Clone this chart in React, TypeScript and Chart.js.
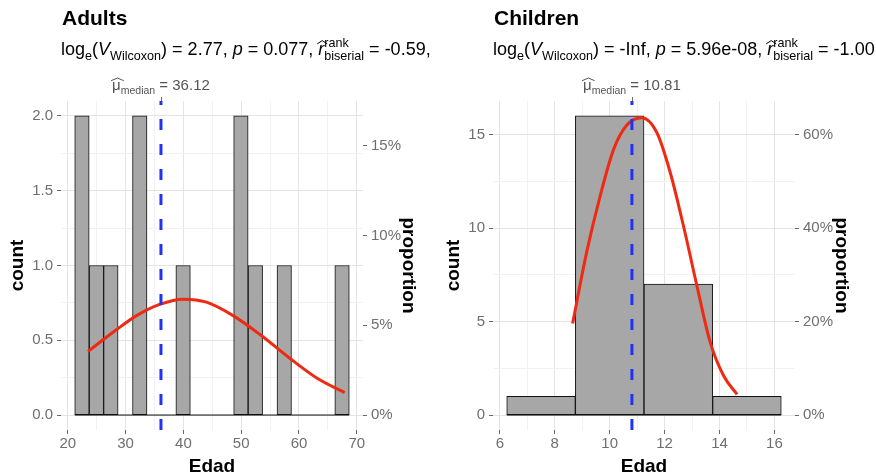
import React, { useEffect, useRef } from 'react';
import { Chart, registerables } from 'chart.js';

Chart.register(...registerables);

const FONT = '"Liberation Sans", Arial, Helvetica, sans-serif';

// ---------- Adults data ----------
const adultsTitle = 'Adults';
const adultsBinWidth = 2.5;
const adultsBinCenters = [22.45, 24.95, 27.45, 29.95, 32.45, 34.95, 37.45, 39.95, 42.45, 44.95, 47.45, 49.95, 52.45, 54.95, 57.45, 59.95, 62.45, 64.95, 67.45];
const adultsCounts = [2, 1, 1, 0, 2, 0, 0, 1, 0, 0, 0, 2, 1, 0, 1, 0, 0, 0, 1];
const adultsMedian = 36.12;
const adultsCurveX = [23.5, 26.0, 28.4, 31.9, 35.9, 40.0, 44.0, 48.6, 53.2, 58.4, 63.0, 67.9];
const adultsCurveY = [0.425, 0.5, 0.57, 0.665, 0.74, 0.775, 0.755, 0.665, 0.54, 0.38, 0.25, 0.15];
const adultsXMajor = [20, 30, 40, 50, 60, 70];
const adultsXMinor = [25, 35, 45, 55, 65];
const adultsYMajor = [0, 0.5, 1, 1.5, 2];
const adultsYMajorLabels = ['0.0', '0.5', '1.0', '1.5', '2.0'];
const adultsYMinor = [0.25, 0.75, 1.25, 1.75];
const adultsPropTicks = [0, 0.05, 0.1, 0.15];
const adultsPropLabels = ['0%', '5%', '10%', '15%'];
const adultsStat = '2.77';
const adultsP = '0.077';
const adultsR = '-0.59';

// ---------- Children data ----------
const childrenTitle = 'Children';
const childrenBinWidth = 2.5;
const childrenBinCenters = [7.5, 10, 12.5, 15];
const childrenCounts = [1, 16, 7, 1];
const childrenMedian = 10.81;
const childrenCurveX = [8.65, 9.16, 9.65, 10.14, 10.62, 11.17, 11.72, 12.2, 12.69, 13.18, 13.66, 14.15, 14.64];
const childrenCurveY = [4.9, 8.7, 11.7, 14.2, 15.5, 15.9, 15.1, 13.0, 10.1, 6.9, 3.9, 2.1, 1.1];
const childrenXMajor = [6, 8, 10, 12, 14, 16];
const childrenXMinor = [7, 9, 11, 13, 15];
const childrenYMajor = [0, 5, 10, 15];
const childrenYMajorLabels = ['0', '5', '10', '15'];
const childrenYMinor = [2.5, 7.5, 12.5];
const childrenPropTicks = [0, 0.2, 0.4, 0.6];
const childrenPropLabels = ['0%', '20%', '40%', '60%'];
const childrenStat = '-Inf';
const childrenP = '5.96e-08';
const childrenR = '-1.00';

type Part = { t?: string; kind?: 'sub' | 'sup' | 'stack'; italic?: boolean; hat?: boolean; sup?: string; sub?: string };

function subtitleParts(stat: string, p: string, r: string): Part[] {
  return [
    { t: 'log' },
    { t: 'e', kind: 'sub' },
    { t: '(' },
    { t: 'V', italic: true },
    { t: 'Wilcoxon', kind: 'sub' },
    { t: ') = ' + stat + ', ' },
    { t: 'p', italic: true },
    { t: ' = ' + p + ', ' },
    { t: 'r', italic: true, hat: true },
    { kind: 'stack', sup: 'rank', sub: 'biserial' },
    { t: ' = ' + r + ',' },
  ];
}

function pfont(size: number, italic?: boolean) {
  return `${italic ? 'italic ' : ''}${size}px ${FONT}`;
}

function measureParts(ctx: CanvasRenderingContext2D, parts: Part[], size: number) {
  let w = 0;
  const small = size * 0.7;
  for (const p of parts) {
    if (p.kind === 'stack') {
      ctx.font = pfont(small);
      w += Math.max(ctx.measureText(p.sup || '').width, ctx.measureText(p.sub || '').width);
    } else {
      ctx.font = pfont(p.kind ? small : size, p.italic);
      w += ctx.measureText(p.t || '').width;
    }
  }
  return w;
}

function drawHat(ctx: CanvasRenderingContext2D, x: number, w: number, y: number, size: number, color: string) {
  ctx.save();
  ctx.strokeStyle = color;
  ctx.lineWidth = 1;
  ctx.beginPath();
  ctx.moveTo(x - 1, y - size * 0.62);
  ctx.lineTo(x + w / 2 + 1, y - size * 0.8);
  ctx.lineTo(x + w + 3, y - size * 0.62);
  ctx.stroke();
  ctx.restore();
}

function drawParts(ctx: CanvasRenderingContext2D, parts: Part[], x: number, y: number, size: number, color: string) {
  ctx.fillStyle = color;
  ctx.textAlign = 'left';
  ctx.textBaseline = 'alphabetic';
  const small = size * 0.7;
  for (const p of parts) {
    if (p.kind === 'stack') {
      ctx.font = pfont(small);
      ctx.fillText(p.sup || '', x, y - size * 0.45);
      ctx.fillText(p.sub || '', x, y + size * 0.25);
      x += Math.max(ctx.measureText(p.sup || '').width, ctx.measureText(p.sub || '').width);
    } else if (p.kind === 'sub') {
      ctx.font = pfont(small, p.italic);
      ctx.fillText(p.t || '', x, y + size * 0.25);
      x += ctx.measureText(p.t || '').width;
    } else if (p.kind === 'sup') {
      ctx.font = pfont(small, p.italic);
      ctx.fillText(p.t || '', x, y - size * 0.45);
      x += ctx.measureText(p.t || '').width;
    } else {
      ctx.font = pfont(size, p.italic);
      ctx.fillText(p.t || '', x, y);
      const w = ctx.measureText(p.t || '').width;
      if (p.hat) drawHat(ctx, x, w, y, size, color);
      x += w;
    }
  }
}

interface Panel {
  title: string;
  subtitle: Part[];
  binWidth: number;
  centers: number[];
  counts: number[];
  median: number;
  curveX: number[];
  curveY: number[];
  xMajor: number[];
  xMinor: number[];
  yMajor: number[];
  yMajorLabels: string[];
  yMinor: number[];
  propTicks: number[];
  propLabels: string[];
  // layout
  yAxisWidth: number;
  y2Width: number;
  countPad: number;
  propPad: number;
}

const panels: Panel[] = [
  {
    title: adultsTitle,
    subtitle: subtitleParts(adultsStat, adultsP, adultsR),
    binWidth: adultsBinWidth,
    centers: adultsBinCenters,
    counts: adultsCounts,
    median: adultsMedian,
    curveX: adultsCurveX,
    curveY: adultsCurveY,
    xMajor: adultsXMajor,
    xMinor: adultsXMinor,
    yMajor: adultsYMajor,
    yMajorLabels: adultsYMajorLabels,
    yMinor: adultsYMinor,
    propTicks: adultsPropTicks,
    propLabels: adultsPropLabels,
    yAxisWidth: 61,
    y2Width: 75,
    countPad: 6,
    propPad: 18,
  },
  {
    title: childrenTitle,
    subtitle: subtitleParts(childrenStat, childrenP, childrenR),
    binWidth: childrenBinWidth,
    centers: childrenBinCenters,
    counts: childrenCounts,
    median: childrenMedian,
    curveX: childrenCurveX,
    curveY: childrenCurveY,
    xMajor: childrenXMajor,
    xMinor: childrenXMinor,
    yMajor: childrenYMajor,
    yMajorLabels: childrenYMajorLabels,
    yMinor: childrenYMinor,
    propTicks: childrenPropTicks,
    propLabels: childrenPropLabels,
    yAxisWidth: 55,
    y2Width: 81,
    countPad: 4,
    propPad: 23,
  },
];

const GRID_MAJOR = '#e4e4e4';
const GRID_MINOR = '#f1f1f1';
const TICK_COLOR = '#6a6a6a';
const LABEL_COLOR = '#6f6f6f';

function PanelChart({ panel }: { panel: Panel }) {
  const ref = useRef<HTMLCanvasElement | null>(null);

  useEffect(() => {
    if (!ref.current) return;
    const firstEdge = panel.centers[0] - panel.binWidth / 2;
    const lastEdge = panel.centers[panel.centers.length - 1] + panel.binWidth / 2;
    const xSpan = lastEdge - firstEdge;
    const xMin = firstEdge - 0.05 * xSpan;
    const xMax = lastEdge + 0.05 * xSpan;
    const yTop = Math.max(...panel.counts);
    const yMin = -0.05 * yTop;
    const yMax = yTop * 1.05;
    const n = panel.counts.reduce((a, b) => a + b, 0);

    const isMajor = (arr: number[], v: number) => arr.some((m) => Math.abs(m - v) < 1e-9);

    const headerPlugin = {
      id: 'header',
      afterDraw(chart: any) {
        const { ctx, chartArea, scales } = chart;
        ctx.save();
        ctx.fillStyle = '#000';
        ctx.textAlign = 'left';
        ctx.textBaseline = 'alphabetic';
        ctx.font = `bold 21px ${FONT}`;
        ctx.fillText(panel.title, chartArea.left + 1, 25);
        drawParts(ctx, panel.subtitle, chartArea.left, 55, 18, '#000');
        const mx = scales.x.getPixelForValue(panel.median);
        const label: Part[] = [{ t: '\u03bc', hat: true }, { t: 'median', kind: 'sub' }, { t: ' = ' + panel.median.toFixed(2) }];
        const w = measureParts(ctx, label, 15);
        drawParts(ctx, label, mx - w / 2, 90, 15, '#555');
        ctx.strokeStyle = TICK_COLOR;
        ctx.lineWidth = 1;
        ctx.beginPath();
        ctx.moveTo(Math.round(mx) + 0.5, chartArea.top - 4);
        ctx.lineTo(Math.round(mx) + 0.5, chartArea.top);
        ctx.stroke();
        ctx.restore();
      },
    };

    const xTicks = [...panel.xMajor, ...panel.xMinor].sort((a, b) => a - b);
    const yTicks = [...panel.yMajor, ...panel.yMinor].sort((a, b) => a - b);

    const chart = new Chart(ref.current, {
      type: 'bar',
      data: {
        datasets: [
          {
            type: 'bar',
            data: panel.centers.map((c, i) => ({ x: c, y: panel.counts[i] })),
            xAxisID: 'xb',
            yAxisID: 'y',
            backgroundColor: '#a7a7a7',
            borderColor: '#111111',
            borderWidth: 1,
            borderSkipped: false,
            categoryPercentage: 1,
            barPercentage: 1,
            grouped: false,
            order: 4,
          } as any,
          {
            type: 'line',
            data: [
              { x: firstEdge, y: 0 },
              { x: lastEdge, y: 0 },
            ],
            xAxisID: 'x',
            yAxisID: 'y',
            borderColor: '#111111',
            borderWidth: 1,
            pointRadius: 0,
            fill: false,
            order: 3,
          } as any,
          {
            type: 'line',
            data: panel.curveX.map((x, i) => ({ x, y: panel.curveY[i] })),
            xAxisID: 'x',
            yAxisID: 'y',
            borderColor: '#ee2a12',
            borderWidth: 3,
            pointRadius: 0,
            fill: false,
            cubicInterpolationMode: 'monotone',
            order: 1,
          } as any,
          {
            type: 'line',
            data: [
              { x: panel.median, y: yMin },
              { x: panel.median, y: yMax },
            ],
            xAxisID: 'x',
            yAxisID: 'y',
            borderColor: '#1f32f5',
            borderWidth: 3,
            borderDash: [11, 14],
            pointRadius: 0,
            fill: false,
            order: 0,
          } as any,
        ],
      },
      options: {
        animation: false,
        responsive: false,
        events: [],
        layout: { padding: { top: 101, left: 0, right: 0, bottom: 0 } },
        plugins: { legend: { display: false }, tooltip: { enabled: false }, title: { display: false } },
        scales: {
          xb: {
            type: 'linear',
            display: false,
            offset: false,
            grid: { offset: false },
            min: xMin,
            max: xMax,
            afterBuildTicks: (s: any) => {
              s.ticks = panel.centers.map((v) => ({ value: v }));
            },
          },
          x: {
            type: 'linear',
            position: 'bottom',
            offset: false,
            min: xMin,
            max: xMax,
            afterBuildTicks: (s: any) => {
              s.ticks = xTicks.map((v) => ({ value: v }));
            },
            afterFit: (s: any) => {
              s.height = 44;
            },
            border: { display: false },
            grid: {
              offset: false,
              color: (c: any) => (isMajor(panel.xMajor, c.tick?.value) ? GRID_MAJOR : GRID_MINOR),
              tickColor: (c: any) => (isMajor(panel.xMajor, c.tick?.value) ? TICK_COLOR : 'rgba(0,0,0,0)'),
              lineWidth: 1,
              tickLength: 4,
            },
            ticks: {
              autoSkip: false,
              maxRotation: 0,
              padding: 1,
              color: LABEL_COLOR,
              font: { family: FONT, size: 15 },
              callback: (v: any) => {
                const i = panel.xMajor.findIndex((m) => Math.abs(m - v) < 1e-9);
                return i >= 0 ? String(panel.xMajor[i]) : '';
              },
            },
            title: {
              display: true,
              text: 'Edad',
              color: '#000',
              font: { family: FONT, size: 19, weight: 'bold', lineHeight: 1 },
              padding: { top: 0, bottom: -2 },
            },
          },
          y: {
            type: 'linear',
            position: 'left',
            min: yMin,
            max: yMax,
            afterBuildTicks: (s: any) => {
              s.ticks = yTicks.map((v) => ({ value: v }));
            },
            afterFit: (s: any) => {
              s.width = panel.yAxisWidth;
            },
            border: { display: false },
            grid: {
              color: (c: any) => (isMajor(panel.yMajor, c.tick?.value) ? GRID_MAJOR : GRID_MINOR),
              tickColor: (c: any) => (isMajor(panel.yMajor, c.tick?.value) ? TICK_COLOR : 'rgba(0,0,0,0)'),
              lineWidth: 1,
              tickLength: 4,
            },
            ticks: {
              autoSkip: false,
              padding: 4,
              color: LABEL_COLOR,
              font: { family: FONT, size: 15 },
              callback: (v: any) => {
                const i = panel.yMajor.findIndex((m) => Math.abs(m - v) < 1e-9);
                return i >= 0 ? panel.yMajorLabels[i] : '';
              },
            },
            title: {
              display: true,
              text: 'count',
              color: '#000',
              font: { family: FONT, size: 19, weight: 'bold', lineHeight: 1.2 },
              padding: { top: panel.countPad, bottom: 0 },
            },
          },
          y2: {
            type: 'linear',
            position: 'right',
            min: yMin / n,
            max: yMax / n,
            afterBuildTicks: (s: any) => {
              s.ticks = panel.propTicks.map((v) => ({ value: v }));
            },
            afterFit: (s: any) => {
              s.width = panel.y2Width;
            },
            border: { display: false },
            grid: { drawOnChartArea: false, tickColor: TICK_COLOR, tickLength: 4 },
            ticks: {
              autoSkip: false,
              padding: 4,
              color: LABEL_COLOR,
              font: { family: FONT, size: 15 },
              callback: (v: any) => {
                const i = panel.propTicks.findIndex((m) => Math.abs(m - v) < 1e-9);
                return i >= 0 ? panel.propLabels[i] : '';
              },
            },
            title: {
              display: true,
              text: 'proportion',
              color: '#000',
              font: { family: FONT, size: 19, weight: 'bold', lineHeight: 1.2 },
              padding: { top: panel.propPad, bottom: 0 },
            },
          },
        },
      } as any,
      plugins: [headerPlugin],
    });
    return () => chart.destroy();
  }, [panel]);

  return (
    <div style={{ width: 438, height: 474, position: 'relative' }}>
      <canvas ref={ref} width={438} height={474} style={{ display: 'block', width: 438, height: 474 }} />
    </div>
  );
}

export default function App() {
  return (
    <div style={{ position: 'fixed', left: 0, top: 0, width: 876, height: 474, display: 'flex', background: '#fff', overflow: 'hidden' }}>
      {panels.map((p, i) => (
        <PanelChart key={i} panel={p} />
      ))}
    </div>
  );
}
